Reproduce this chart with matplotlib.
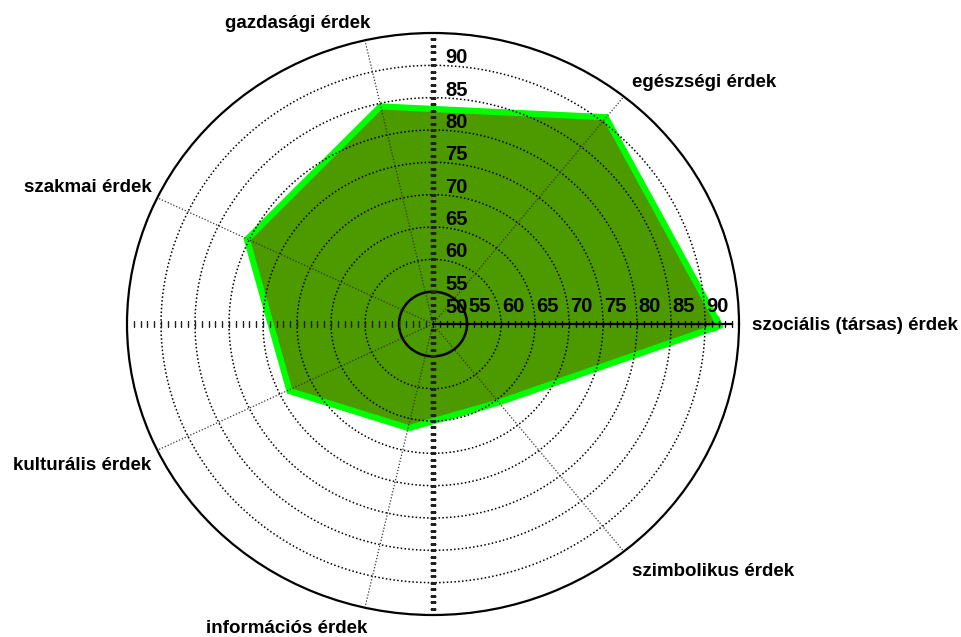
import numpy as np
import matplotlib
matplotlib.use("Agg")
import matplotlib.pyplot as plt

plt.rcParams['font.family'] = ['Liberation Sans', 'DejaVu Sans']

categories = ["szociális (társas) érdek", "egészségi érdek", "gazdasági érdek",
              "szakmai érdek", "kulturális érdek", "információs érdek",
              "szimbolikus érdek"]
values = [91.5, 90.3, 84.0, 79.8, 73.0, 66.0, 65.0]
ring_values = [55, 60, 65, 70, 75, 80, 85, 90]
r_min, r_max = 50, 95

W, H = 962, 637
fig = plt.figure(figsize=(W / 100, H / 100), dpi=100)
ax = fig.add_axes([127 / W, (H - 615) / H, 612 / W, 582 / H], projection='polar')
ax.set_aspect('auto')
ax.set_ylim(r_min, r_max)
ax.set_xticks([])
ax.set_yticks([])
ax.grid(False)
ax.spines['polar'].set_linewidth(1.6)
ax.spines['polar'].set_color('black')

n = len(categories)
angles = np.arange(n) * 2 * np.pi / n
th = np.append(angles, angles[0])
vals = np.append(values, values[0])

# data polygon: lime outline under opaque olive fill
ax.plot(th, vals, color='#00FF00', lw=9, solid_joinstyle='miter', zorder=2)
ax.fill(th, vals, color='#4C9900', zorder=2.1, lw=0)

# rings
tf = np.linspace(0, 2 * np.pi, 400)
for v in ring_values:
    if v == 55:
        ax.plot(tf, np.full_like(tf, v), color='black', lw=1.8, zorder=3)
    else:
        ax.plot(tf, np.full_like(tf, v), color='black', lw=1.1,
                ls=(0, (1, 1.5)), zorder=3)

# spokes
for a in angles[1:]:
    ax.plot([a, a], [r_min, r_max], color='#333333', lw=0.9, ls=(0, (1, 1.5)), zorder=3)

# axis ticks
units = np.arange(r_min, r_max)
ax.plot(np.zeros_like(units), units, color='black', lw=1.6, marker='|', ms=4.5,
        mew=1.0, zorder=3.2)
ax.plot(np.full(len(units) - 1, np.pi), units[1:], ls='none', color='#222222',
        marker='|', ms=4, mew=1.0, zorder=3.2)
ax.plot(np.full(len(units) - 1, np.pi / 2), units[1:], ls='none', color='#222222',
        marker='_', ms=4, mew=1.0, zorder=3.2)
ax.plot(np.full(len(units) - 1, 3 * np.pi / 2), units[1:], ls='none', color='#222222',
        marker='_', ms=4, mew=1.0, zorder=3.2)

# radial tick labels
lab_kw = dict(textcoords='offset pixels', fontsize=14.5, fontweight='bold',
              va='baseline', ha='left', zorder=4, annotation_clip=False)
ax.annotate("50", xy=(0, 50), xytext=(12, 11), **lab_kw)
for v in ring_values:
    ax.annotate(str(v), xy=(0, v), xytext=(1, 12), **lab_kw)
    ax.annotate(str(v), xy=(np.pi / 2, v), xytext=(12, 2), **lab_kw)

# category labels
label_pos = [(752, 330, 'left'), (704, 87, 'center'), (298, 28, 'center'),
             (88, 192, 'center'), (82, 470, 'center'), (287, 633, 'center'),
             (713, 576, 'center')]
for name, (x, y, ha) in zip(categories, label_pos):
    fig.text(x / W, 1 - y / H, name, ha=ha, va='baseline', fontsize=13.5,
             fontweight='bold')

fig.savefig("out.png", dpi=100)
